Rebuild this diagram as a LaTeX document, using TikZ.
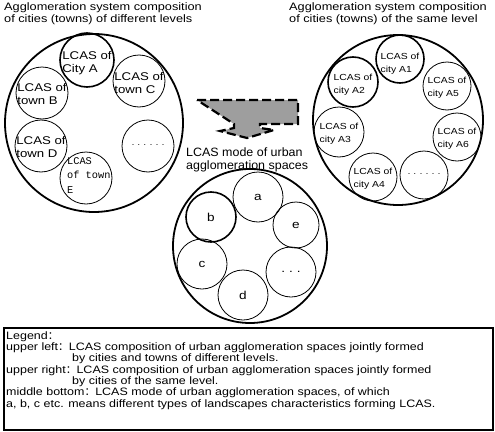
\documentclass[tikz,border=0pt]{standalone}
\usepackage{fontspec}
\setmainfont{Liberation Sans}
\newfontfamily\monofont{Liberation Mono}
\newfontfamily\wideA[FakeStretch=1.18]{Liberation Sans}
\newfontfamily\wideB[FakeStretch=1.16]{Liberation Sans}
\newfontfamily\wideC[FakeStretch=1.03]{Liberation Sans}
\newfontfamily\cjk{Noto Sans CJK SC}
\newcommand{\fc}{{\cjk ：}}
\begin{document}
\begin{tikzpicture}[x=1pt,y=-1pt,
  big/.style={circle,draw,line width=1.8pt,inner sep=0pt,minimum size=#1},
  small/.style={circle,draw,line width=0.8pt,inner sep=0pt,minimum size=#1},
  smallthick/.style={circle,draw,line width=1.6pt,inner sep=0pt,minimum size=#1},
  ltxt/.style={align=left,inner sep=0pt,font=\wideA\fontsize{11.2}{13.6}\selectfont},
  rtxt/.style={align=left,inner sep=0pt,font=\wideA\fontsize{8.8}{12.8}\selectfont},
  mtxt/.style={inner sep=0pt,font=\wideA\fontsize{11.5}{13}\selectfont},
  title/.style={anchor=base west,inner sep=0pt,font=\wideA\fontsize{10.8}{12.5}\selectfont},
  legline/.style={anchor=base west,inner sep=0pt,font=\wideB\fontsize{10.75}{11.3}\selectfont},
  dots/.style={inner sep=0pt,font=\fontsize{9}{10}\selectfont},
]
\useasboundingbox (0,0) rectangle (495,431);

% titles
\node[title] (tl1) at (4,10) {Agglomeration system composition};
\node[title] (tl2) at (4,22.5) {of cities (towns) of different levels};
\node[title] (tr1) at (289,10) {Agglomeration system composition};
\node[title] (tr2) at (289,22.5) {of cities (towns) of the same level};

% left big circle
\node[big=178pt] (L) at (94,123) {};
\node[smallthick=54pt] (LA) at (87,60) {};
\node[ltxt] at ([yshift=-3pt]LA.center) {LCAS of\\City A};
\node[small=52pt] (LC) at (139,81) {};
\node[ltxt] at ([yshift=-2pt]LC.center) {LCAS of\\town C};
\node[small=52pt] (LB) at (42,93) {};
\node[ltxt] at ([yshift=-1pt]LB.center) {LCAS of\\town B};
\node[small=52pt] (LD) at (41,146) {};
\node[ltxt] at ([yshift=-1pt]LD.center) {LCAS of\\town D};
\node[small=52pt] (LX) at (148,146) {};
\node[dots] at ([yshift=1pt]LX.center) {.\hspace{3.5pt}.\hspace{3.5pt}.\hspace{3.5pt}.\hspace{3.5pt}.\hspace{3.5pt}.};
\node[small=52pt] (LE) at (86,178) {};
\node[align=left,inner sep=0pt,anchor=north west,font=\monofont\fontsize{10.3}{14.5}\selectfont] (LEt) at (67,157) {LCAS\\of town\\E};

% right big circle
\node[big=170pt] (R) at (398,120) {};
\node[smallthick=48pt] (RA1) at (400,59) {};
\node[rtxt] at ([yshift=-5pt]RA1.center) {LCAS of\\city A1};
\node[smallthick=50pt] (RA2) at (353,82) {};
\node[rtxt] at ([yshift=-3pt]RA2.center) {LCAS of\\city A2};
\node[small=48pt] (RA5) at (447,86) {};
\node[rtxt] at ([yshift=-2pt]RA5.center) {LCAS of\\city A5};
\node[small=50pt] (RA3) at (339,132) {};
\node[rtxt] at ([yshift=-2pt]RA3.center) {LCAS of\\city A3};
\node[small=48pt] (RA6) at (457,137) {};
\node[rtxt] at ([yshift=-2pt]RA6.center) {LCAS of\\city A6};
\node[small=48pt] (RA4) at (373,177) {};
\node[rtxt] at ([yshift=-2pt]RA4.center) {LCAS of\\city A4};
\node[small=48pt] (RX) at (424,175) {};
\node[dots] at ([yshift=1pt]RX.center) {.\hspace{3.5pt}.\hspace{3.5pt}.\hspace{3.5pt}.\hspace{3.5pt}.\hspace{3.5pt}.};

% arrow
\draw[line width=2.2pt,dash pattern=on 9pt off 4pt,fill=black!38]
  (197,100) -- (298,100) -- (298,124) -- (260,124) -- (260,128) -- (274,130)
  -- (247,138) -- (220,131) -- (234,128) -- (234,124) -- cycle;
\node[anchor=base west,inner sep=0pt,font=\wideC\fontsize{12.1}{13.3}\selectfont] (ml1) at (186,156) {LCAS mode of urban};
\node[anchor=base west,inner sep=0pt,font=\wideC\fontsize{12.1}{13.3}\selectfont] (ml2) at (186,169.3) {agglomeration spaces};

% middle circle
\node[big=154pt] (M) at (250,246) {};
\node[small=50pt] (Ma) at (258,197) {};
\node[mtxt] at (Ma.center) {a};
\node[smallthick=50pt] (Mb) at (211,217) {};
\node[mtxt] at (Mb.center) {b};
\node[small=46pt] (Me) at (296,225) {};
\node[mtxt] at (Me.center) {e};
\node[small=50pt] (Mc) at (202,264) {};
\node[mtxt] at (Mc.center) {c};
\node[small=50pt] (MX) at (291,272) {};
\node[mtxt] at (MX.center) {.\hspace{4pt}.\hspace{4pt}.};
\node[small=50pt] (Md) at (243,295) {};
\node[mtxt] at (Md.center) {d};

% legend
\node[draw,line width=1.6pt,fill=white,minimum width=489pt,minimum height=102pt,anchor=north west,inner sep=0pt] (leg) at (3,327) {};
\node[legline] (lg1) at (6,339.3) {Legend\fc};
\node[legline] (lg2) at (6,350.6) {upper left\fc LCAS composition of urban agglomeration spaces jointly formed};
\node[legline] (lg3) at (72,361.9) {by cities and towns of different levels.};
\node[legline] (lg4) at (6,373.2) {upper right\fc LCAS composition of urban agglomeration spaces jointly formed};
\node[legline] (lg5) at (72,384.5) {by cities of the same level.};
\node[legline] (lg6) at (6,395.8) {middle bottom\fc LCAS mode of urban agglomeration spaces, of which};
\node[legline] (lg7) at (6,407.1) {a, b, c etc. means different types of landscapes characteristics forming LCAS.};
\end{tikzpicture}
\end{document}
